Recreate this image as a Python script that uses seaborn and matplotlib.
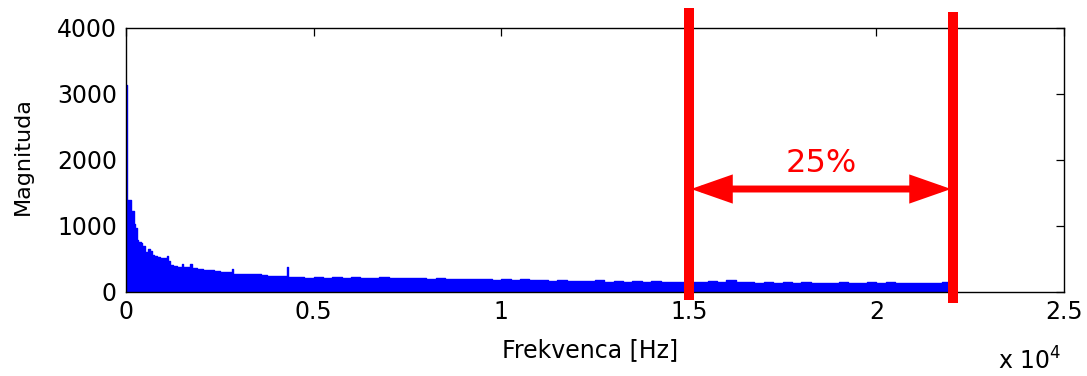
import numpy as np
import pandas as pd
import matplotlib
matplotlib.use("Agg")
import matplotlib.pyplot as plt
import seaborn as sns

# spectrum (Hz, magnitude)
freq_hz = [0, 36, 124, 213, 240, 262, 302, 329, 400, 440, 462, 506, 595, 640,
           684, 750, 817, 900, 995, 1084, 1130, 1173, 1260, 1350, 1484, 1530,
           1600, 1706, 1750, 1900, 2061, 2200, 2350, 2505, 2650, 2816, 2860,
           3000, 3200, 3400, 3600, 3749, 3900, 4100, 4282, 4330,
           4500, 4750, 5000, 5250, 5500, 5750, 6000, 6250, 6500, 6750, 7000,
           7250, 7500, 7750, 8000, 8250, 8500, 8750, 9000, 9250, 9500, 9750,
           10000, 10250, 10500, 10750, 11000, 11250, 11500, 11750, 12000,
           12250, 12500, 12750, 13000, 13250, 13500, 13750, 14000, 14250,
           14500, 14750, 15000, 15250, 15500, 15750, 16000, 16250, 16500,
           16750, 17000, 17250, 17500, 17750, 18000, 18250, 18500, 18750,
           19000, 19250, 19500, 19750, 20000, 20250, 20500, 20750, 21000,
           21250, 21500, 21750, 22000, 22050]
magnitude = [3136, 1390, 1227, 1020, 790, 960, 780, 760, 745, 700, 700, 606,
             652, 610, 556, 540, 525, 505, 515, 540, 470, 404, 390, 379, 420,
             375, 370, 420, 358, 350, 328, 335, 320, 303, 298, 340, 268,
             275, 262, 270, 258, 237, 245, 232, 380, 222,
             222, 215, 228, 214, 220, 210, 224, 212, 206, 218, 208,
             214, 204, 212, 200, 210, 196, 188, 200, 185, 192, 180,
             186, 176, 190, 172, 180, 168, 176, 160, 166,
             158, 172, 154, 160, 150, 158, 148, 155, 146,
             152, 145, 150, 142, 160, 145, 170, 140, 148,
             138, 145, 136, 142, 134, 140, 135, 138, 132,
             145, 134, 138, 150, 136, 142, 132, 138, 130,
             135, 128, 150, 130, 130]

x_ticks = [0, 5000, 10000, 15000, 20000, 25000]
x_tick_labels = ["0", "0.5", "1", "1.5", "2", "2.5"]
y_ticks = [0, 1000, 2000, 3000, 4000]

band_start = 15000
band_end = 22050
band_label = "25%"

df = pd.DataFrame({"freq": freq_hz, "mag": magnitude})

sns.set_style("white")
plt.rcParams["font.family"] = ["DejaVu Sans"]
plt.rcParams["text.color"] = "black"
plt.rcParams["axes.labelcolor"] = "black"

fig = plt.figure(figsize=(10.87, 3.76), dpi=100)
ax = fig.add_axes([0.1159, 0.2242, 0.8629, 0.7021])

ax.fill_between(df["freq"], df["mag"], step="post", color="blue", lw=0)
sns.lineplot(data=df, x="freq", y="mag", ax=ax, color="blue", lw=1,
             drawstyle="steps-post")

ax.set_xlim(0, 25000)
ax.set_ylim(0, 4000)
ax.set_xticks(x_ticks)
ax.set_xticklabels(x_tick_labels)
ax.set_yticks(y_ticks)
ax.tick_params(direction="in", top=True, right=True, length=5.8, width=0.9,
               labelsize=17, colors="black", labelcolor="black")
ax.tick_params(axis="x", pad=6)
ax.tick_params(axis="y", pad=6.5)
for s in ax.spines.values():
    s.set_color("black")
    s.set_linewidth(1)

ax.set_xlabel("Frekvenca [Hz]", fontsize=17, color="black")
ax.set_ylabel("Magnituda", fontsize=16, color="black")
ax.xaxis.set_label_coords(0.4947, -0.175)
ax.yaxis.set_label_coords(-0.099, 0.514)

# red band markers
ax.plot([band_start, band_start], [-130, 4300], color="red", lw=7.2,
        solid_capstyle="butt", clip_on=False, zorder=5)
ax.plot([band_end, band_end], [-175, 4240], color="red", lw=7.2,
        solid_capstyle="butt", clip_on=False, zorder=5)
ax.annotate("", xy=(band_start + 60, 1556), xytext=(band_end - 60, 1556),
            arrowprops=dict(arrowstyle="<|-|>,head_length=2.0,head_width=0.7",
                            color="red", lw=5.0, mutation_scale=10,
                            shrinkA=0, shrinkB=0, joinstyle="miter",
                            capstyle="butt"), zorder=4)
ax.text(18522, 1935, band_label, color="red", fontsize=23,
        ha="center", va="center")

fig.text(998 / 1087, 0.004, r"x 10$^4$", fontsize=17, ha="left",
         va="bottom", color="black")

fig.savefig("out.png", dpi=100)
